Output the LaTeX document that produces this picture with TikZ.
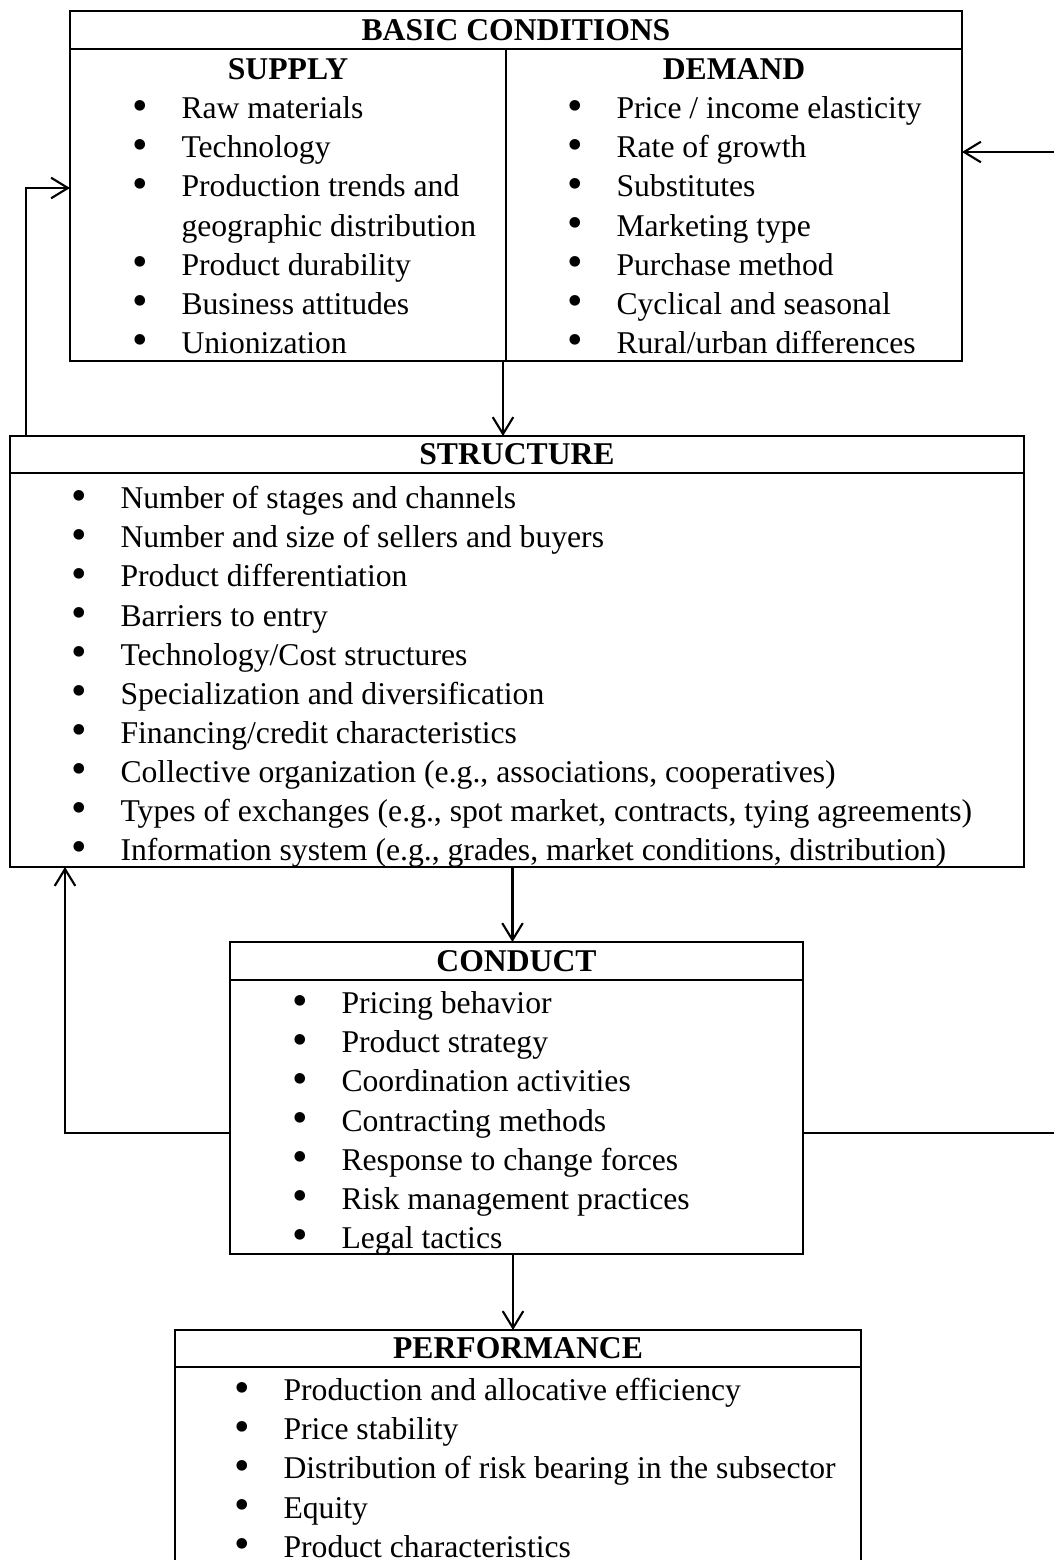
\documentclass[tikz,border=0pt]{standalone}
\usepackage{fontspec}
\setmainfont{Liberation Serif}
\usepackage{graphicx}
\usepackage{tikz}
\usetikzlibrary{arrows.meta, positioning}

\newlength{\pxu}
\setlength{\pxu}{0.379pt}
\newcommand{\itm}[1]{\strut\makebox[18pt][l]{\hspace{-0.6pt}\raisebox{-0.5pt}{\scalebox{1.4}{\textbullet}}}#1}
\newcommand{\cont}[1]{\strut\hspace*{18pt}#1}

\begin{document}
\begin{tikzpicture}[
    x=1\pxu, y=-1\pxu,
    head/.style={rectangle, draw=black, line width=0.6pt, inner sep=0pt, outer sep=0pt, minimum height=38\pxu, font=\fontsize{12pt}{14.8pt}\selectfont\bfseries},
    cell/.style={rectangle, draw=black, line width=0.6pt, inner sep=0pt, outer sep=0pt},
    subhead/.style={inner sep=0pt, minimum height=39\pxu, font=\fontsize{12pt}{14.8pt}\selectfont\bfseries},
    items/.style={inner sep=0pt, align=left, font=\fontsize{12pt}{14.8pt}\selectfont},
    arrow/.style={-{Straight Barb[length=6.4pt, width=7.8pt]}, line width=0.8pt},
]
\useasboundingbox (0,0) rectangle (1054,1560);

% ── Basic conditions ──
\node[head, minimum width=892\pxu] (basic) at (516,30) {BASIC CONDITIONS};
\node[cell, minimum width=436\pxu, minimum height=312\pxu, below right=0pt and 0pt of basic.south west] (supply) {};
\node[cell, minimum width=456\pxu, minimum height=312\pxu, right=0pt of supply] (demand) {};
\node[subhead, below=0pt of supply.north] (supplyhead) {SUPPLY};
\node[subhead, below=0pt of demand.north] (demandhead) {DEMAND};
\node[items, below right=42\pxu and 63.5\pxu of supply.north west] (supplylist) {\itm{Raw materials}\\ \itm{Technology}\\ \itm{Production trends and}\\ \cont{geographic distribution}\\ \itm{Product durability}\\ \itm{Business attitudes}\\ \itm{Unionization}};
\node[items, below right=42\pxu and 62.5\pxu of demand.north west] (demandlist) {\itm{Price / income elasticity}\\ \itm{Rate of growth}\\ \itm{Substitutes}\\ \itm{Marketing type}\\ \itm{Purchase method}\\ \itm{Cyclical and seasonal}\\ \itm{Rural/urban differences}};

% ── Structure ──
\node[head, minimum width=1014\pxu, minimum height=37\pxu] (structure) at (517,454.5) {STRUCTURE};
\node[cell, minimum width=1014\pxu, minimum height=394\pxu, below=0pt of structure] (strbody) {};
\node[items, below right=8\pxu and 62.5\pxu of strbody.north west] (strlist) {\itm{Number of stages and channels}\\ \itm{Number and size of sellers and buyers}\\ \itm{Product differentiation}\\ \itm{Barriers to entry}\\ \itm{Technology/Cost structures}\\ \itm{Specialization and diversification}\\ \itm{Financing/credit characteristics}\\ \itm{Collective organization (e.g., associations, cooperatives)}\\ \itm{Types of exchanges (e.g., spot market, contracts, tying agreements)}\\ \itm{Information system (e.g., grades, market conditions, distribution)}};

% ── Conduct ──
\node[head, minimum width=573\pxu] (conduct) at (516.5,961) {CONDUCT};
\node[cell, minimum width=573\pxu, minimum height=274\pxu, below=0pt of conduct] (cndbody) {};
\node[items, below right=6\pxu and 63.5\pxu of cndbody.north west] (cndlist) {\itm{Pricing behavior}\\ \itm{Product strategy}\\ \itm{Coordination activities}\\ \itm{Contracting methods}\\ \itm{Response to change forces}\\ \itm{Risk management practices}\\ \itm{Legal tactics}};

% ── Performance ──
\node[head, minimum width=686\pxu, minimum height=37\pxu] (perf) at (518,1348.5) {PERFORMANCE};
\node[cell, minimum width=686\pxu, minimum height=200\pxu, below=0pt of perf] (perfbody) {};
\node[items, below right=6\pxu and 60.5\pxu of perfbody.north west] (perflist) {\itm{Production and allocative efficiency}\\ \itm{Price stability}\\ \itm{Distribution of risk bearing in the subsector}\\ \itm{Equity}\\ \itm{Product characteristics}};

% ── Arrows: main chain ──
\coordinate (b2s) at ([xshift=-3\pxu]supply.south east);
\coordinate (s2c) at ([xshift=-4\pxu]conduct.north);
\coordinate (c2p) at ([xshift=-5\pxu]perf.north);
\draw[arrow] (b2s) -- (b2s |- structure.north);
\draw[arrow] (s2c |- strbody.south) -- (s2c);
\draw[arrow] (c2p |- cndbody.south) -- (c2p);

% ── Arrows: feedback ──
\coordinate (fbl) at (65,1133);
\coordinate (fbr) at (1058,1133);
\coordinate (fbt) at (26,188);
\draw[arrow] (fbl -| cndbody.west) -- (fbl) -- (fbl |- strbody.south);
\draw[arrow] (fbr -| cndbody.east) -- (fbr) |- ([yshift=53\pxu]demand.east);
\draw[arrow] (fbt |- structure.north) -- (fbt) -- (fbt -| supply.west);

\end{tikzpicture}
\end{document}
